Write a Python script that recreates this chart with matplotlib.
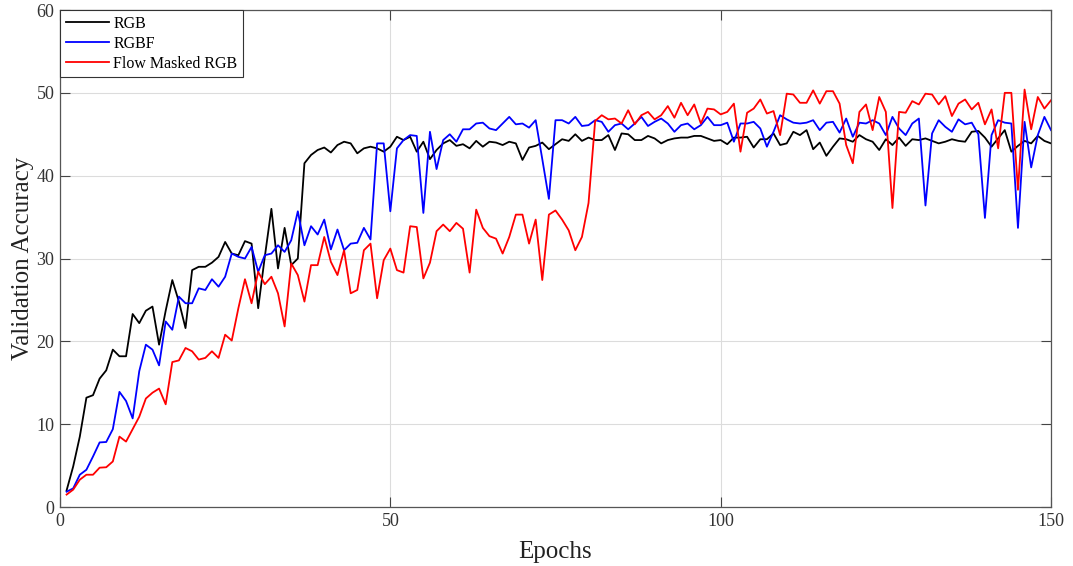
import numpy as np
import matplotlib
matplotlib.use("Agg")
import matplotlib.pyplot as plt

# validation accuracy per epoch (1..150)
epochs = np.arange(1, 151)

rgb = [
    2.0, 4.9, 8.5, 13.2, 13.5, 15.5, 16.5, 19.0, 18.2, 18.2,
    23.3, 22.2, 23.7, 24.2, 19.6, 23.7, 27.4, 24.8, 21.6, 28.6,
    29.0, 29.0, 29.5, 30.2, 32.0, 30.6, 30.4, 32.1, 31.8, 24.0,
    30.2, 36.0, 28.8, 33.7, 29.2, 30.0, 41.5, 42.5, 43.1, 43.4,
    42.8, 43.7, 44.1, 43.9, 42.7, 43.3, 43.5, 43.3, 42.9, 43.5,
    44.7, 44.3, 44.7, 42.9, 44.1, 42.0, 43.1, 43.9, 44.3, 43.6,
    43.8, 43.3, 44.2, 43.5, 44.1, 44.0, 43.7, 44.1, 43.9, 41.9,
    43.4, 43.6, 44.0, 43.2, 43.8, 44.4, 44.2, 45.0, 44.2, 44.6,
    44.3, 44.3, 44.9, 43.1, 45.1, 45.0, 44.3, 44.3, 44.8, 44.5,
    43.9, 44.3, 44.5, 44.6, 44.6, 44.8, 44.8, 44.5, 44.2, 44.3,
    43.8, 44.6, 44.6, 44.7, 43.4, 44.4, 44.4, 45.1, 43.7, 43.9,
    45.3, 44.9, 45.5, 43.2, 44.0, 42.4, 43.5, 44.5, 44.4, 44.1,
    44.9, 44.4, 44.1, 43.1, 44.4, 43.7, 44.6, 43.6, 44.4, 44.3,
    44.5, 44.2, 43.9, 44.1, 44.4, 44.2, 44.1, 45.3, 45.4, 44.6,
    43.5, 44.5, 45.5, 42.9, 43.6, 44.2, 43.9, 44.8, 44.2, 43.9,
]

rgbf = [
    1.85, 2.25, 3.9, 4.5, 6.1, 7.8, 7.85, 9.4, 13.9, 12.8,
    10.7, 16.4, 19.6, 19.0, 17.1, 22.4, 21.4, 25.4, 24.6, 24.6,
    26.4, 26.2, 27.5, 26.6, 27.8, 30.6, 30.2, 30.0, 31.4, 28.4,
    30.4, 30.6, 31.6, 30.8, 32.2, 35.7, 31.6, 33.9, 32.9, 34.7,
    31.1, 33.5, 31.0, 31.8, 31.9, 33.7, 32.3, 43.9, 43.9, 35.7,
    43.3, 44.3, 44.9, 44.8, 35.5, 45.3, 40.8, 44.3, 45.0, 44.1,
    45.6, 45.6, 46.3, 46.4, 45.7, 45.5, 46.3, 47.1, 46.2, 46.3,
    45.8, 46.7, 42.0, 37.2, 46.7, 46.7, 46.3, 47.1, 46.0, 46.1,
    46.7, 46.5, 45.3, 46.1, 46.3, 45.6, 46.3, 47.1, 46.0, 46.5,
    46.9, 46.3, 45.3, 46.1, 46.3, 45.6, 46.1, 47.1, 46.1, 46.1,
    46.4, 44.1, 46.3, 46.3, 46.5, 45.7, 43.5, 45.3, 47.3, 46.8,
    46.4, 46.3, 46.4, 46.7, 45.5, 46.4, 46.5, 45.2, 46.9, 44.7,
    46.4, 46.3, 46.7, 46.3, 44.9, 47.1, 45.7, 44.9, 46.3, 46.9,
    36.4, 45.1, 46.7, 45.9, 45.3, 46.8, 46.2, 46.4, 45.0, 34.9,
    44.9, 46.7, 46.4, 46.3, 33.7, 46.5, 41.0, 44.9, 47.1, 45.5,
]

flow_masked = [
    1.5, 2.1, 3.3, 3.9, 3.9, 4.75, 4.8, 5.5, 8.5, 7.9,
    9.4, 10.9, 13.1, 13.8, 14.3, 12.4, 17.5, 17.7, 19.2, 18.8,
    17.8, 18.0, 18.8, 18.0, 20.8, 20.1, 24.0, 27.5, 24.6, 28.4,
    26.9, 27.8, 25.8, 21.8, 29.4, 28.0, 24.8, 29.2, 29.2, 32.6,
    29.6, 28.0, 31.0, 25.8, 26.2, 31.0, 31.8, 25.2, 29.8, 31.2,
    28.6, 28.3, 33.9, 33.8, 27.6, 29.5, 33.3, 34.1, 33.3, 34.3,
    33.6, 28.3, 35.9, 33.7, 32.7, 32.4, 30.6, 32.6, 35.3, 35.3,
    31.8, 34.7, 27.4, 35.3, 35.8, 34.7, 33.4, 31.0, 32.6, 36.7,
    46.6, 47.3, 46.8, 46.9, 46.3, 47.9, 46.2, 47.3, 47.7, 46.8,
    47.3, 48.4, 47.0, 48.8, 47.3, 48.6, 46.3, 48.1, 48.0, 47.4,
    47.7, 48.7, 42.9, 47.6, 48.1, 49.2, 47.5, 47.8, 44.9, 49.9,
    49.8, 48.8, 48.8, 50.3, 48.7, 50.2, 50.2, 48.7, 43.7, 41.5,
    47.7, 48.6, 45.5, 49.5, 47.7, 36.1, 47.7, 47.6, 49.0, 48.6,
    49.9, 49.8, 48.6, 49.6, 47.2, 48.7, 49.2, 48.0, 48.8, 46.2,
    48.0, 43.3, 50.0, 50.0, 38.3, 50.4, 45.6, 49.5, 48.1, 49.1,
]

plt.rcParams["font.family"] = ["Liberation Serif", "DejaVu Serif"]

fig = plt.figure(figsize=(10.73, 5.66), dpi=100)
ax = fig.add_axes([0.0559, 0.1042, 0.9236, 0.8781])

ax.plot(epochs, rgb, color="black", lw=1.3, label="RGB")
ax.plot(epochs, rgbf, color="#0000ff", lw=1.3, label="RGBF")
ax.plot(epochs, flow_masked, color="#ff0000", lw=1.3, label="Flow Masked RGB")

ax.set_xlim(0, 150)
ax.set_ylim(0, 60)
ax.set_xticks([0, 50, 100, 150])
ax.set_yticks(np.arange(0, 61, 10))
ax.grid(True, color="#dcdcdc", lw=0.8)
ax.set_axisbelow(True)
ax.tick_params(direction="in", length=7, width=0.8, top=True, right=True,
               labelsize=13, pad=4, color="#444444", labelcolor="#333333")
for s in ax.spines.values():
    s.set_color("#555555")
    s.set_linewidth(0.9)

ax.set_xlabel("Epochs", fontsize=18, labelpad=8, color="#222222")
ax.set_ylabel("Validation Accuracy", fontsize=18, labelpad=2, color="#222222")

leg = ax.legend(loc="upper left", fontsize=11.5, frameon=True, fancybox=False,
                borderaxespad=0, handlelength=2.7, labelspacing=0.25,
                handletextpad=0.3, borderpad=0.35)
leg.get_frame().set_edgecolor("#333333")
leg.get_frame().set_linewidth(0.8)
leg.get_frame().set_alpha(1)

fig.savefig("out.png", dpi=100)
